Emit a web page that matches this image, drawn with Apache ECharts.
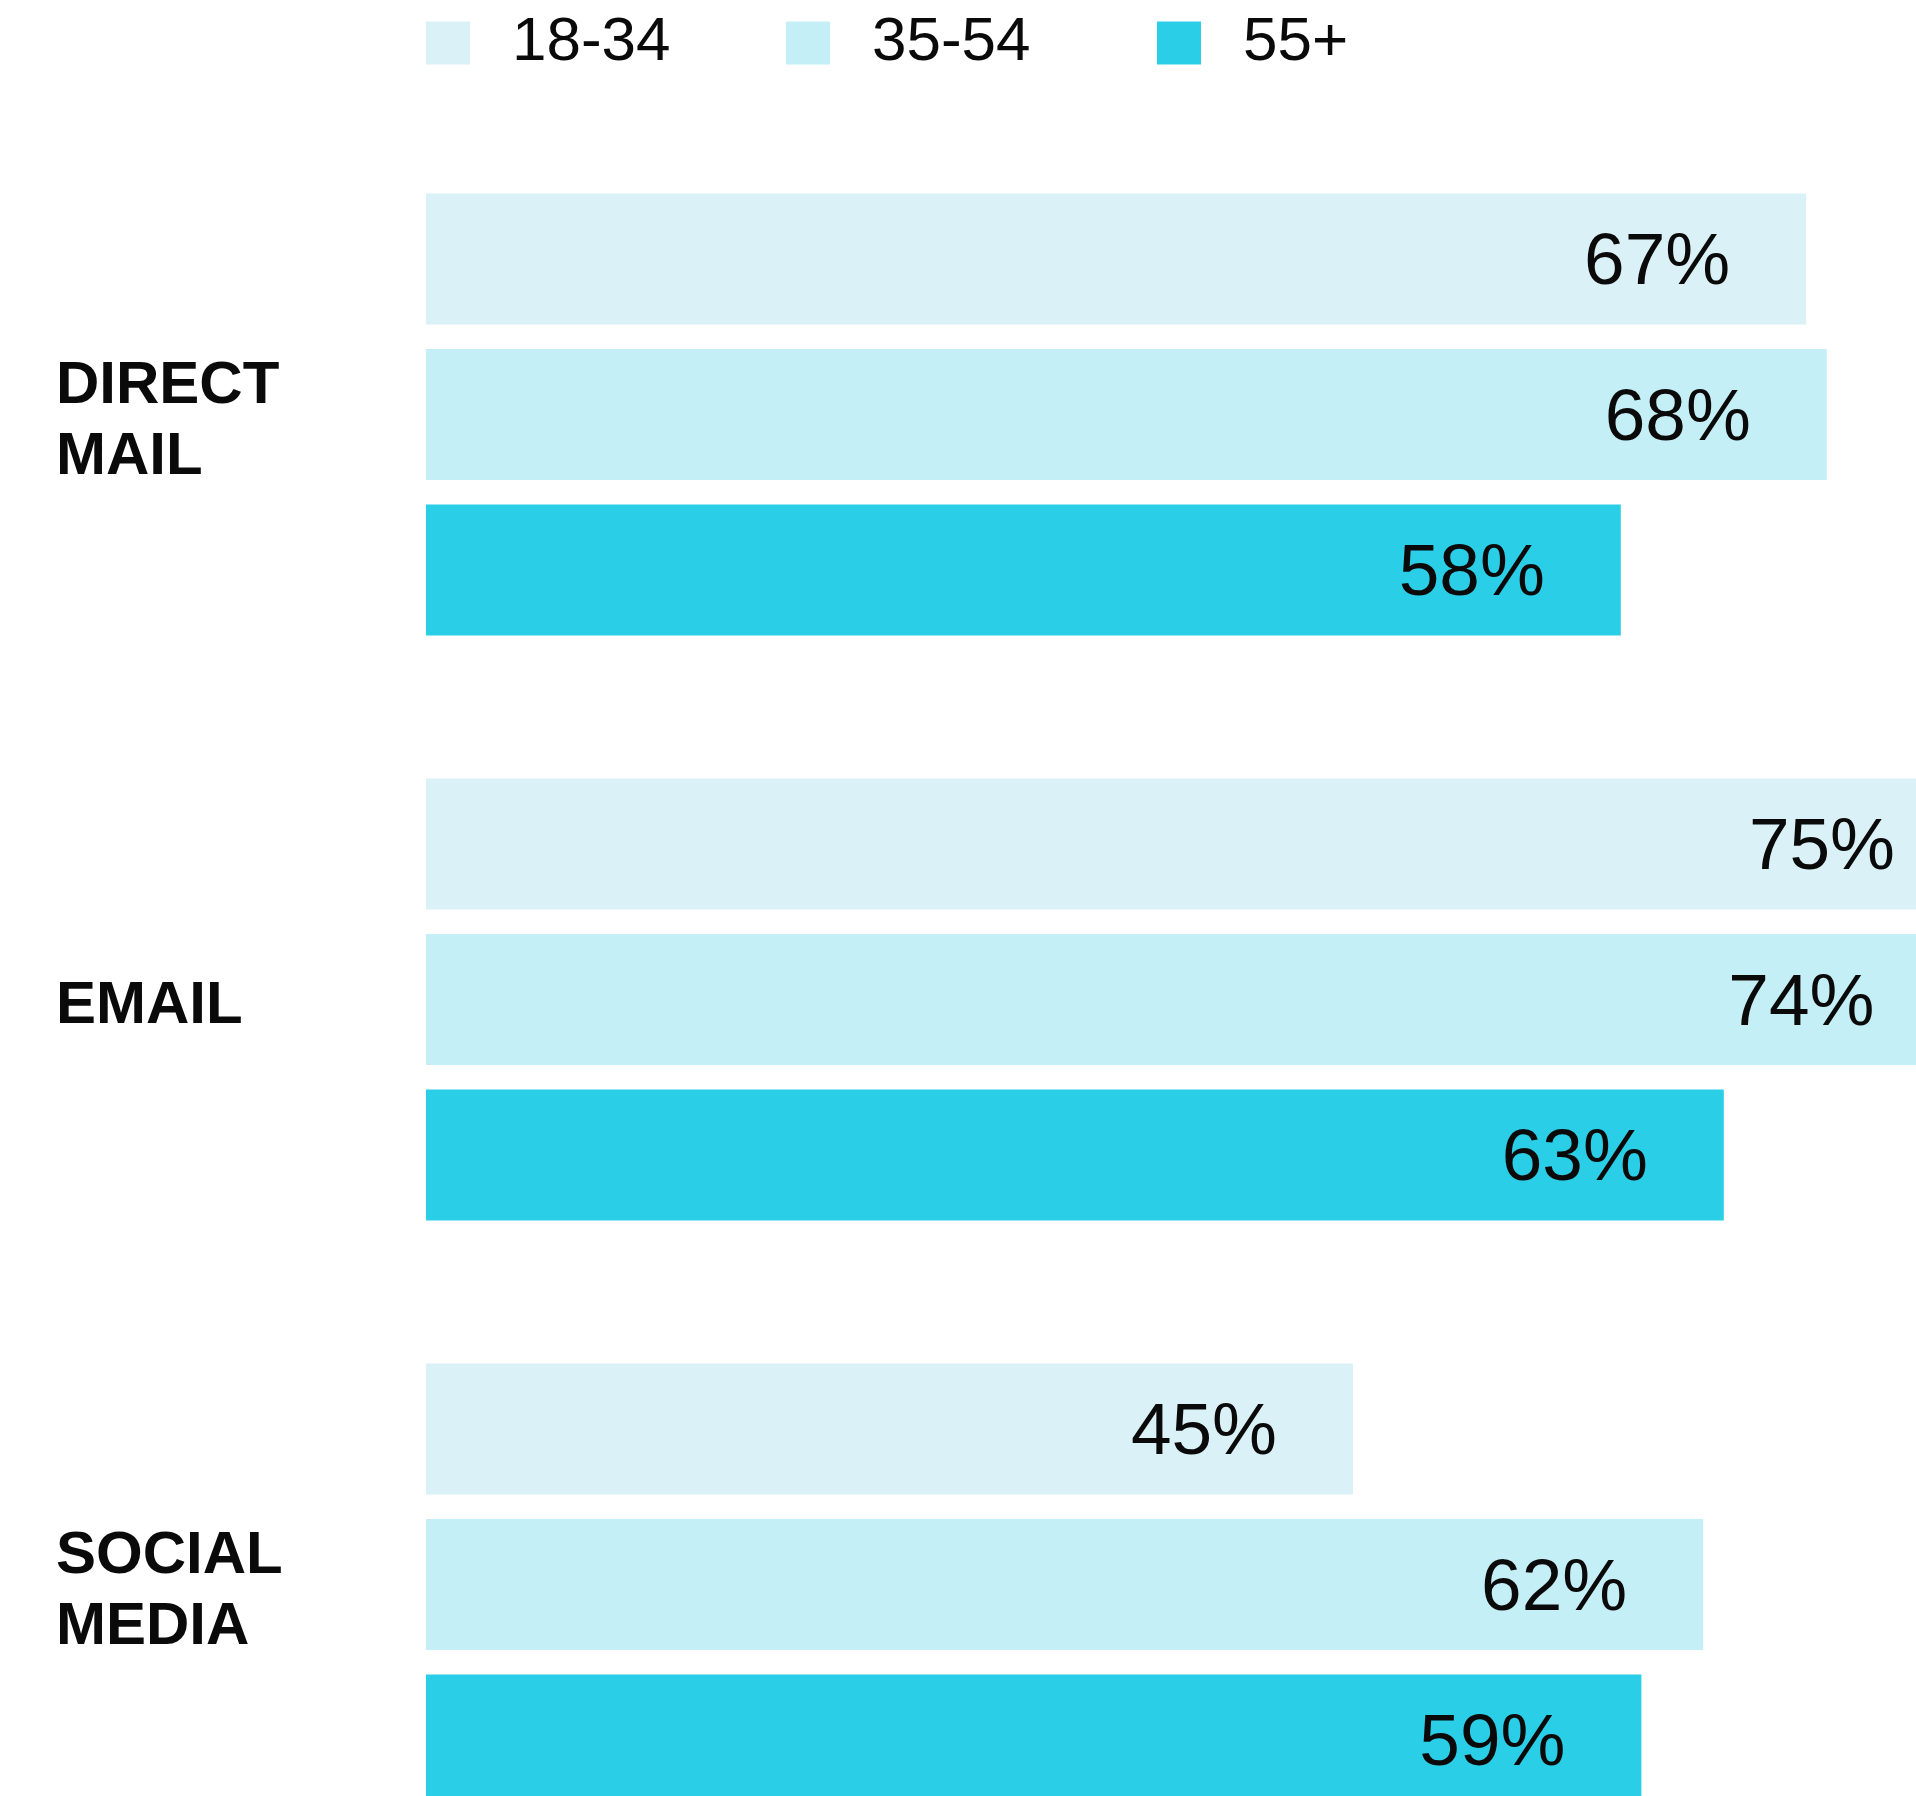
<!DOCTYPE html>
<html>
<head>
<meta charset="utf-8">
<style>
  html, body { margin: 0; padding: 0; background: #ffffff; }
  #chart { width: 1916px; height: 1796px; }
</style>
<script src="https://cdn.jsdelivr.net/npm/echarts@6/dist/echarts.min.js"></script>
</head>
<body>
<div id="chart"></div>
<script>
// Channels (top to bottom) and share of each age group, in percent
const channels = ['DIRECT\nMAIL', 'EMAIL', 'SOCIAL\nMEDIA'];
const ageGroups = ['18-34', '35-54', '55+'];
const age18to34 = [67, 75, 45];
const age35to54 = [68, 74, 62];
const age55plus = [58, 63, 59];
const groupColors = ['#daf2f7', '#c5eff6', '#2acfe7'];

const seriesValues = [age18to34, age35to54, age55plus];
const legendLefts = [426, 786, 1157];

const chart = echarts.init(document.getElementById('chart'), null, { renderer: 'canvas' });

const labelFont = 'Liberation Sans, Arial, Helvetica, sans-serif';

const option = {
  backgroundColor: '#ffffff',
  animation: false,
  legend: ageGroups.map((name, i) => ({
    data: [name],
    left: legendLefts[i],
    top: 12,
    padding: 0,
    icon: 'rect',
    itemWidth: 44,
    itemHeight: 43,
    selectedMode: false,
    textStyle: {
      fontFamily: labelFont,
      fontSize: 62,
      color: '#0a0a0a',
      padding: [0, 0, 0, 37]
    }
  })),
  // The plot area runs past the right and bottom edges of the page,
  // so the longest bars and the last group are cut by the canvas.
  grid: {
    left: 426,
    top: 122,
    width: 2060,
    height: 1755,
    containLabel: false,
    outerBoundsMode: 'none'
  },
  xAxis: {
    type: 'value',
    min: 0,
    max: 100,
    show: false
  },
  yAxis: {
    type: 'category',
    data: channels,
    inverse: true,
    axisLine: { show: false },
    axisTick: { show: false },
    splitLine: { show: false },
    axisLabel: {
      align: 'left',
      margin: 370,
      formatter: (value) => value.split('\n').map((line) => '{ch|' + line + '}').join('\n'),
      rich: {
        ch: {
          fontFamily: labelFont,
          fontWeight: 'bold',
          fontSize: 60,
          lineHeight: 71,
          padding: [14, 0, 0, 0],
          color: '#0a0a0a'
        }
      }
    }
  },
  series: ageGroups.map((name, i) => ({
    name: name,
    type: 'bar',
    data: seriesValues[i],
    barWidth: 131,
    barGap: '18.7%',
    itemStyle: { color: groupColors[i] },
    label: {
      show: true,
      position: 'insideRight',
      distance: 76,
      offset: [0, 5],
      formatter: '{c}%',
      fontFamily: labelFont,
      fontSize: 73,
      color: '#0a0a0a'
    }
  }))
};

chart.setOption(option);
</script>
</body>
</html>
